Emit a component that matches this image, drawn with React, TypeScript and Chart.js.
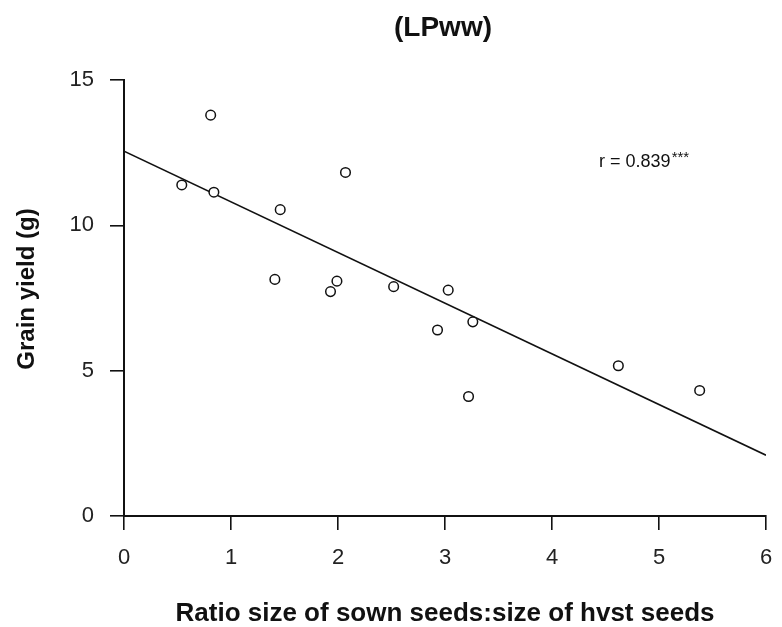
import React, { useEffect, useRef } from "react";
import { Chart, registerables } from "chart.js";

Chart.register(...registerables);

// Reference data
const ratioValues = [0.54, 0.81, 0.84, 1.46, 1.41, 2.07, 1.99, 1.93, 2.52, 3.03, 3.26, 2.93, 3.22, 4.62, 5.38];
const yieldValues = [11.39, 13.79, 11.14, 10.54, 8.14, 11.82, 8.08, 7.72, 7.89, 7.77, 6.68, 6.40, 4.11, 5.17, 4.32];
const fitX = [0, 6];
const fitY = [12.55, 2.09];
const xTicks = [0, 1, 2, 3, 4, 5, 6];
const yTicks = [0, 5, 10, 15];
const chartTitle = "(LPww)";
const xTitle = "Ratio size of sown seeds:size of hvst seeds";
const yTitle = "Grain yield (g)";
const rLabel = "r = 0.839";
const rStars = "***";

const FONT = '"Liberation Sans", Arial, Helvetica, sans-serif';

const textPlugin = {
  id: "customText",
  afterDraw(chart: any) {
    const ctx = chart.ctx as CanvasRenderingContext2D;
    const xScale = chart.scales.x;
    const yScale = chart.scales.y;
    ctx.save();
    ctx.fillStyle = "#111";
    // Title
    ctx.font = `bold 28px ${FONT}`;
    ctx.textAlign = "center";
    ctx.textBaseline = "middle";
    ctx.fillText(chartTitle, 443, 28);
    // X title
    ctx.font = `bold 26px ${FONT}`;
    ctx.fillText(xTitle, 445, 614);
    // Y title
    ctx.save();
    ctx.translate(27, 289);
    ctx.rotate(-Math.PI / 2);
    ctx.font = `bold 24px ${FONT}`;
    ctx.fillText(yTitle, 0, 0);
    ctx.restore();
    // r annotation
    const rx = xScale.getPixelForValue(4.44);
    const ry = yScale.getPixelForValue(12.0);
    ctx.font = `18px ${FONT}`;
    ctx.textAlign = "left";
    ctx.textBaseline = "alphabetic";
    ctx.fillText(rLabel, rx, ry);
    const w = ctx.measureText(rLabel).width;
    ctx.font = `15px ${FONT}`;
    ctx.fillText(rStars, rx + w + 1, ry - 5);
    ctx.restore();
  },
};

export default function App() {
  const canvasRef = useRef<HTMLCanvasElement | null>(null);

  useEffect(() => {
    const canvas = canvasRef.current;
    if (!canvas) return;
    const points = ratioValues.map((x, i) => ({ x, y: yieldValues[i] }));
    const fit = fitX.map((x, i) => ({ x, y: fitY[i] }));
    const chart = new Chart(canvas, {
      type: "scatter",
      data: {
        datasets: [
          {
            type: "line",
            data: fit,
            borderColor: "#111",
            borderWidth: 1.6,
            pointRadius: 0,
            fill: false,
            order: 2,
          } as any,
          {
            type: "scatter",
            data: points,
            pointRadius: 4.8,
            pointBorderWidth: 1.5,
            borderColor: "#111",
            backgroundColor: "#fff",
            pointBackgroundColor: "#fff",
            pointBorderColor: "#111",
            order: 1,
          },
        ],
      },
      options: {
        responsive: false,
        animation: false,
        devicePixelRatio: 1,
        layout: { padding: { left: 0, top: 80, right: 16, bottom: 0 } },
        plugins: {
          legend: { display: false },
          tooltip: { enabled: false },
          title: { display: false },
        },
        scales: {
          x: {
            type: "linear",
            min: 0,
            max: 6,
            afterBuildTicks: (scale: any) => {
              scale.ticks = xTicks.map((v) => ({ value: v }));
            },
            afterFit: (scale: any) => {
              scale.height = 111;
              scale.paddingLeft = 0;
              scale.paddingRight = 0;
            },
            ticks: {
              color: "#222",
              font: { family: FONT, size: 22 },
              padding: 15,
              maxRotation: 0,
              callback: (v: any) => String(v),
            },
            grid: {
              display: true,
              drawOnChartArea: false,
              drawTicks: true,
              tickLength: 14,
              color: "#111",
              lineWidth: 1.6,
            },
            border: { display: true, color: "#111", width: 2 },
          },
          y: {
            type: "linear",
            min: 0,
            max: 15,
            afterBuildTicks: (scale: any) => {
              scale.ticks = yTicks.map((v) => ({ value: v }));
            },
            afterFit: (scale: any) => {
              scale.width = 124;
              scale.paddingTop = 0;
              scale.paddingBottom = 0;
            },
            ticks: {
              color: "#222",
              font: { family: FONT, size: 22 },
              padding: 16,
              callback: (v: any) => String(v),
            },
            grid: {
              display: true,
              drawOnChartArea: false,
              drawTicks: true,
              tickLength: 14,
              color: "#111",
              lineWidth: 1.6,
            },
            border: { display: true, color: "#111", width: 2 },
          },
        },
      },
      plugins: [textPlugin],
    });
    return () => chart.destroy();
  }, []);

  return (
    <div style={{ position: "absolute", left: 0, top: 0, width: 782, height: 627, background: "#fff" }}>
      <canvas ref={canvasRef} width={782} height={627} />
    </div>
  );
}
